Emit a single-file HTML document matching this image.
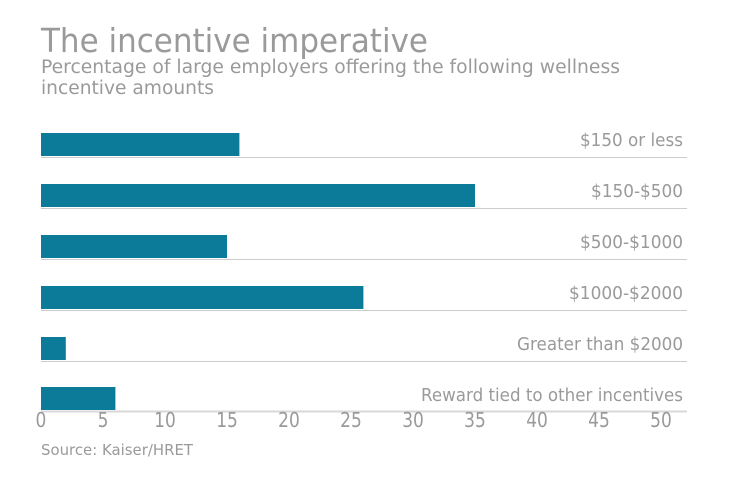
<!DOCTYPE html>
<html><head><meta charset="utf-8"><style>
body{margin:0;background:#fff;}
svg text{font-family:"DejaVu Sans","Liberation Sans",sans-serif;fill:#9a9a9a;}
</style></head><body>
<svg width="740" height="482" xmlns="http://www.w3.org/2000/svg">
<text x="41" y="52" font-size="33" textLength="387" lengthAdjust="spacingAndGlyphs">The incentive imperative</text>
<text x="41" y="73" font-size="18.5" textLength="579" lengthAdjust="spacingAndGlyphs">Percentage of large employers offering the following wellness</text>
<text x="41" y="94" font-size="18.5" textLength="173" lengthAdjust="spacingAndGlyphs">incentive amounts</text>
<g fill="#0c7a99">
<rect x="41" y="133" width="198.4" height="23"/>
<rect x="41" y="184" width="434" height="23"/>
<rect x="41" y="235" width="186" height="23"/>
<rect x="41" y="286" width="322.4" height="23"/>
<rect x="41" y="337" width="24.8" height="23"/>
<rect x="41" y="387" width="74.4" height="23"/>
</g>
<g stroke="#cccccc" stroke-width="1">
<line x1="41" x2="687" y1="157.5" y2="157.5"/>
<line x1="41" x2="687" y1="208.5" y2="208.5"/>
<line x1="41" x2="687" y1="259.5" y2="259.5"/>
<line x1="41" x2="687" y1="310.5" y2="310.5"/>
<line x1="41" x2="687" y1="361.5" y2="361.5"/>
</g>
<line x1="41" x2="687" y1="411.5" y2="411.5" stroke="#d8d8d8" stroke-width="2"/>
<g font-size="17.5">
<text x="580" y="146" textLength="103" lengthAdjust="spacingAndGlyphs">$150 or less</text>
<text x="591" y="197" textLength="92" lengthAdjust="spacingAndGlyphs">$150-$500</text>
<text x="580" y="248" textLength="103" lengthAdjust="spacingAndGlyphs">$500-$1000</text>
<text x="569" y="299" textLength="114" lengthAdjust="spacingAndGlyphs">$1000-$2000</text>
<text x="517" y="350" textLength="166" lengthAdjust="spacingAndGlyphs">Greater than $2000</text>
<text x="421" y="401" textLength="262" lengthAdjust="spacingAndGlyphs">Reward tied to other incentives</text>
</g>
<g font-size="20" text-anchor="middle" transform="scale(0.85,1)">
<text x="48.2" y="427">0</text><text x="121.2" y="427">5</text><text x="194.1" y="427">10</text>
<text x="267.1" y="427">15</text><text x="340" y="427">20</text><text x="412.9" y="427">25</text>
<text x="485.9" y="427">30</text><text x="558.8" y="427">35</text><text x="631.8" y="427">40</text>
<text x="704.7" y="427">45</text><text x="777.6" y="427">50</text>
</g>
<text x="41" y="455" font-size="15" textLength="152" lengthAdjust="spacingAndGlyphs">Source: Kaiser/HRET</text>
</svg>
</body></html>
